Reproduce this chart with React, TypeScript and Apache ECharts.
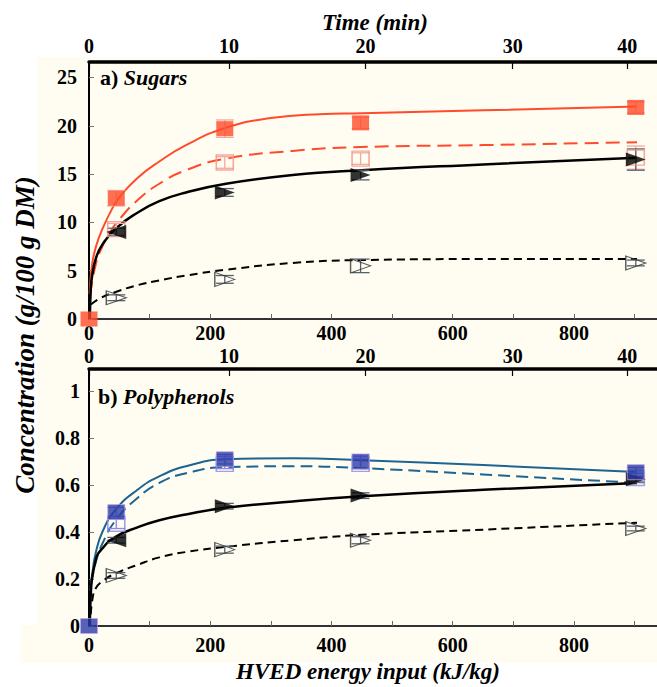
import React, { useEffect, useRef } from "react";
import * as echarts from "echarts";

// ---------- data ----------
const energyPts = [45, 224, 448, 902];

// Sugars (g/100 g DM)
const sugarRedFilled = [12.5, 19.7, 20.3, 21.9];
const sugarRedFilledErr = [0.8, 0.9, 0.6, 0.6];
const sugarRedOpen = [9.3, 16.2, 16.6, 16.7];
const sugarRedOpenErr = [0.6, 0.6, 0.6, 1.2];
const sugarBlackFilled = [9.0, 13.1, 14.9, 16.5];
const sugarBlackFilledErr = [0.4, 0.4, 0.5, 1.1];
const sugarBlackOpen = [2.2, 4.1, 5.5, 5.8];
const sugarBlackOpenErr = [0.3, 0.4, 0.7, 0.3];

// Polyphenols
const polyBlueFilled = [0.485, 0.71, 0.7, 0.655];
const polyBlueFilledErr = [0.02, 0.02, 0.03, 0.02];
const polyBlueOpen = [0.435, 0.69, 0.69, 0.63];
const polyBlueOpenErr = [0.02, 0.02, 0.02, 0.02];
const polyBlackFilled = [0.365, 0.51, 0.555, 0.625];
const polyBlackFilledErr = [0.012, 0.012, 0.012, 0.012];
const polyBlackOpen = [0.215, 0.325, 0.365, 0.415];
const polyBlackOpenErr = [0.012, 0.015, 0.015, 0.01];

// fitted curves: [energy, value]
const sugarFitRedSolid = [[1, 2.6], [5, 5.6], [12, 7.6], [22, 9.3], [38, 11.4], [50, 12.6], [80, 14.6], [116, 16.3], [160, 18.0], [226, 19.8], [300, 20.8], [380, 21.2], [450, 21.3], [650, 21.6], [904, 22.0]];
const sugarFitRedDashed = [[2, 2.5], [11, 5.6], [22, 7.5], [35, 9.0], [50, 10.3], [80, 12.3], [116, 14.0], [160, 15.4], [226, 16.6], [336, 17.4], [450, 17.8], [650, 18.0], [904, 18.3]];
const sugarFitBlackSolid = [[1.5, 0], [3, 3.2], [5.5, 4.6], [12, 6.4], [22, 7.7], [45, 9.4], [80, 11.0], [116, 12.2], [160, 13.1], [226, 14.0], [336, 14.9], [450, 15.4], [650, 16.0], [904, 16.7]];
const sugarFitBlackDashed = [[3, 1.5], [20, 2.2], [44, 2.8], [80, 3.5], [116, 4.0], [160, 4.5], [226, 5.1], [336, 5.8], [450, 6.1], [650, 6.2], [904, 6.2]];

const polyFitBlueSolid = [[2, 0.15], [5.5, 0.225], [11, 0.31], [22, 0.4], [44, 0.495], [80, 0.58], [116, 0.637], [160, 0.68], [226, 0.71], [336, 0.714], [450, 0.706], [650, 0.685], [904, 0.656]];
const polyFitBlueDashed = [[4, 0.18], [11, 0.27], [22, 0.35], [44, 0.45], [80, 0.545], [116, 0.609], [160, 0.65], [226, 0.676], [336, 0.68], [450, 0.672], [650, 0.645], [904, 0.609]];
const polyFitBlackSolid = [[1.5, 0], [2.5, 0.11], [11, 0.28], [22, 0.33], [44, 0.38], [80, 0.42], [116, 0.45], [160, 0.475], [226, 0.503], [336, 0.53], [450, 0.552], [650, 0.58], [904, 0.609]];
const polyFitBlackDashed = [[3, 0.05], [6, 0.12], [11, 0.16], [22, 0.19], [44, 0.224], [80, 0.26], [116, 0.292], [160, 0.315], [226, 0.337], [336, 0.365], [450, 0.388], [650, 0.41], [904, 0.44]];

// axes
const energyLabelTicks = [0, 200, 400, 600, 800];
const energyMinorTicks = [0, 100, 200, 300, 400, 500, 600, 700, 800, 900];
const timeTickLabels = [0, 10, 20, 30, 40];
const timeTickPositions = [0, 231, 456, 699, 888]; // energy-equivalent positions
const sugarTicks = [0, 5, 10, 15, 20, 25];
const polyTicks = [0, 0.2, 0.4, 0.6, 0.8, 1];

const XMAX = 937;
const SUGAR_MAX = 26.6;
const POLY_MAX = 1.094;

// ---------- styling ----------
const FONT = '"Liberation Serif", "Times New Roman", serif';
const RED = "#ff4b2b";
const RED_LIGHT = "#f2948a";
const BLUE_LINE = "#1d6492";
const BLUE_FILL = "#2b3ba6";
const BLUE_LIGHT = "#8a86e8";
const CREAM = "#fffdf1";

const tickLabel = { fontFamily: FONT, fontWeight: "bold" as const, fontSize: 20, color: "#000" };

function bottomAxis(grid: number, margin: number) {
  return {
    gridIndex: grid, type: "value", position: "bottom", min: 0, max: XMAX,
    axisLine: { show: true, onZero: false, lineStyle: { color: "#333", width: 2 } },
    axisTick: { show: true, inside: true, length: 5, customValues: energyMinorTicks, lineStyle: { color: "#666", width: 1 } },
    axisLabel: { ...tickLabel, margin, customValues: energyLabelTicks },
    splitLine: { show: false },
  };
}
function topAxis(grid: number, margin: number) {
  return {
    gridIndex: grid, type: "value", position: "top", min: 0, max: XMAX,
    axisLine: { show: true, onZero: false, lineStyle: { color: "#000", width: 3.5 } },
    axisTick: { show: true, inside: true, length: 7, customValues: timeTickPositions, lineStyle: { color: "#000", width: 1.2 } },
    axisLabel: {
      ...tickLabel, margin, customValues: timeTickPositions,
      formatter: (v: number) => {
        const i = timeTickPositions.findIndex((p) => Math.abs(p - v) < 1);
        return i >= 0 ? String(timeTickLabels[i]) : "";
      },
    },
    splitLine: { show: false },
  };
}
function leftAxis(grid: number, max: number, ticks: number[], margin: number) {
  return {
    gridIndex: grid, type: "value", min: 0, max,
    axisLine: { show: true, onZero: false, lineStyle: { color: "#000", width: 2 } },
    axisTick: { show: true, inside: true, length: 5, customValues: ticks, lineStyle: { color: "#777", width: 1 } },
    axisLabel: { ...tickLabel, margin, customValues: ticks, formatter: (v: number) => String(Math.round(v * 100) / 100) },
    splitLine: { show: false },
  };
}

function curve(data: number[][], xi: number, yi: number, color: string, width: number, type: any) {
  return {
    type: "line", xAxisIndex: xi, yAxisIndex: yi, data, showSymbol: false, smooth: 0.5,
    lineStyle: { color, width, type }, z: 3, silent: true,
  };
}

function points(vals: number[], xi: number, yi: number, opts: any, origin = false, firstLeft = false) {
  const data: any[] = energyPts.map((e, i) => {
    const item: any = { value: [e, vals[i]] };
    if (firstLeft && i === 0) item.symbolRotate = 90;
    return item;
  });
  if (origin) data.unshift({ value: [0, 0] });
  return { type: "scatter", xAxisIndex: xi, yAxisIndex: yi, data, z: 5, silent: true, ...opts };
}

function errBars(vals: number[], errs: number[], xi: number, yi: number, color: string) {
  const data = energyPts.map((e, i) => [e, vals[i] - errs[i], vals[i] + errs[i]]);
  return {
    type: "custom", xAxisIndex: xi, yAxisIndex: yi, data, z: 4, silent: true,
    encode: { x: 0, y: [1, 2] },
    renderItem: (params: any, api: any) => {
      const x = api.value(0);
      const p1 = api.coord([x, api.value(1)]);
      const p2 = api.coord([x, api.value(2)]);
      const w = 9;
      const style = { stroke: color, lineWidth: 1.3 };
      return {
        type: "group",
        children: [
          { type: "line", shape: { x1: p1[0], y1: p1[1], x2: p2[0], y2: p2[1] }, style },
          { type: "line", shape: { x1: p1[0] - w, y1: p1[1], x2: p1[0] + w, y2: p1[1] }, style },
          { type: "line", shape: { x1: p2[0] - w, y1: p2[1], x2: p2[0] + w, y2: p2[1] }, style },
        ],
      };
    },
  };
}

const triSize = [14, 20];
const sqSize = [17, 15];

export default function App() {
  const ref = useRef<HTMLDivElement>(null);
  useEffect(() => {
    if (!ref.current) return;
    const chart = echarts.init(ref.current, null, { renderer: "svg" });
    const option: any = {
      animation: false,
      backgroundColor: "#ffffff",
      grid: [
        { left: 89, top: 62, width: 568, height: 257, containLabel: false },
        { left: 89, top: 369, width: 568, height: 257, containLabel: false },
      ],
      xAxis: [bottomAxis(0, 4), topAxis(0, 6), bottomAxis(1, 9), topAxis(1, 3)],
      yAxis: [leftAxis(0, SUGAR_MAX, sugarTicks, 12), leftAxis(1, POLY_MAX, polyTicks, 9)],
      graphic: [
        { type: "rect", z: -10, shape: { x: 37, y: 57, width: 620, height: 606 }, style: { fill: CREAM } },
        { type: "rect", z: -10, shape: { x: 20, y: 625, width: 20, height: 38 }, style: { fill: CREAM } },
        {
          type: "text", x: 375, y: 22, z: 10,
          style: { text: "Time (min)", fontFamily: FONT, fontWeight: "bold", fontStyle: "italic", fontSize: 23, fill: "#000", align: "center", verticalAlign: "middle" },
        },
        {
          type: "text", x: 368, y: 671, z: 10,
          style: { text: "HVED energy input (kJ/kg)", fontFamily: FONT, fontWeight: "bold", fontStyle: "italic", fontSize: 23, fill: "#000", align: "center", verticalAlign: "middle" },
        },
        {
          type: "text", x: 25, y: 335, rotation: Math.PI / 2, z: 10,
          style: { text: "Concentration (g/100 g DM)", fontFamily: FONT, fontWeight: "bold", fontStyle: "italic", fontSize: 27, fill: "#000", align: "center", verticalAlign: "middle" },
        },
        {
          type: "text", x: 100, y: 77, z: 10,
          style: {
            text: "{a|a) }{b|Sugars}", verticalAlign: "middle", align: "left",
            rich: {
              a: { fontFamily: FONT, fontWeight: "bold", fontSize: 22, fill: "#000" },
              b: { fontFamily: FONT, fontWeight: "bold", fontStyle: "italic", fontSize: 22, fill: "#000" },
            },
          },
        },
        {
          type: "text", x: 98, y: 396, z: 10,
          style: {
            text: "{a|b) }{b|Polyphenols}", verticalAlign: "middle", align: "left",
            rich: {
              a: { fontFamily: FONT, fontWeight: "bold", fontSize: 22, fill: "#000" },
              b: { fontFamily: FONT, fontWeight: "bold", fontStyle: "italic", fontSize: 22, fill: "#000" },
            },
          },
        },
      ],
      series: [
        // ---- panel a curves ----
        curve(sugarFitRedSolid, 0, 0, RED, 2, "solid"),
        curve(sugarFitRedDashed, 0, 0, RED, 2, [14, 7]),
        curve(sugarFitBlackSolid, 0, 0, "#000", 2.5, "solid"),
        curve(sugarFitBlackDashed, 0, 0, "#000", 2, [8, 5]),
        // error bars a
        errBars(sugarRedFilled, sugarRedFilledErr, 0, 0, "#f7a79c"),
        errBars(sugarRedOpen, sugarRedOpenErr, 0, 0, "#f7a79c"),
        errBars(sugarBlackFilled, sugarBlackFilledErr, 0, 0, "#56606e"),
        errBars(sugarBlackOpen, sugarBlackOpenErr, 0, 0, "#56606e"),
        // markers a
        points(sugarRedOpen, 0, 0, { symbol: "rect", symbolSize: sqSize, itemStyle: { color: "rgba(255,255,255,0)", borderColor: RED_LIGHT, borderWidth: 1.5 } }),
        points(sugarBlackOpen, 0, 0, { symbol: "triangle", symbolSize: triSize, symbolRotate: -90, itemStyle: { color: "rgba(255,255,255,0)", borderColor: "#333", borderWidth: 1.2 } }),
        points(sugarBlackFilled, 0, 0, { symbol: "triangle", symbolSize: triSize, symbolRotate: -90, itemStyle: { color: "#000" } }, false, true),
        points(sugarRedFilled, 0, 0, { symbol: "rect", symbolSize: sqSize, itemStyle: { color: RED } }, true),
        // ---- panel b curves ----
        curve(polyFitBlueSolid, 2, 1, BLUE_LINE, 2, "solid"),
        curve(polyFitBlueDashed, 2, 1, BLUE_LINE, 2, [12, 6]),
        curve(polyFitBlackSolid, 2, 1, "#000", 2.5, "solid"),
        curve(polyFitBlackDashed, 2, 1, "#000", 2, [8, 5]),
        // error bars b
        errBars(polyBlueFilled, polyBlueFilledErr, 2, 1, BLUE_LIGHT),
        errBars(polyBlueOpen, polyBlueOpenErr, 2, 1, BLUE_LIGHT),
        errBars(polyBlackFilled, polyBlackFilledErr, 2, 1, "#56606e"),
        errBars(polyBlackOpen, polyBlackOpenErr, 2, 1, "#56606e"),
        // markers b
        points(polyBlueOpen, 2, 1, { symbol: "rect", symbolSize: sqSize, itemStyle: { color: "rgba(255,255,255,0)", borderColor: BLUE_LIGHT, borderWidth: 1.5 } }),
        points(polyBlackOpen, 2, 1, { symbol: "triangle", symbolSize: triSize, symbolRotate: -90, itemStyle: { color: "rgba(255,255,255,0)", borderColor: "#333", borderWidth: 1.2 } }),
        points(polyBlackFilled, 2, 1, { symbol: "triangle", symbolSize: triSize, symbolRotate: -90, itemStyle: { color: "#000" } }, false, true),
        points(polyBlueFilled, 2, 1, { symbol: "rect", symbolSize: sqSize, itemStyle: { color: BLUE_FILL, borderColor: "#c9a6e6", borderWidth: 0.8 } }, true),
      ],
    };
    chart.setOption(option);
    return () => chart.dispose();
  }, []);
  return <div ref={ref} style={{ position: "absolute", left: 0, top: 0, width: 657, height: 687 }} />;
}
